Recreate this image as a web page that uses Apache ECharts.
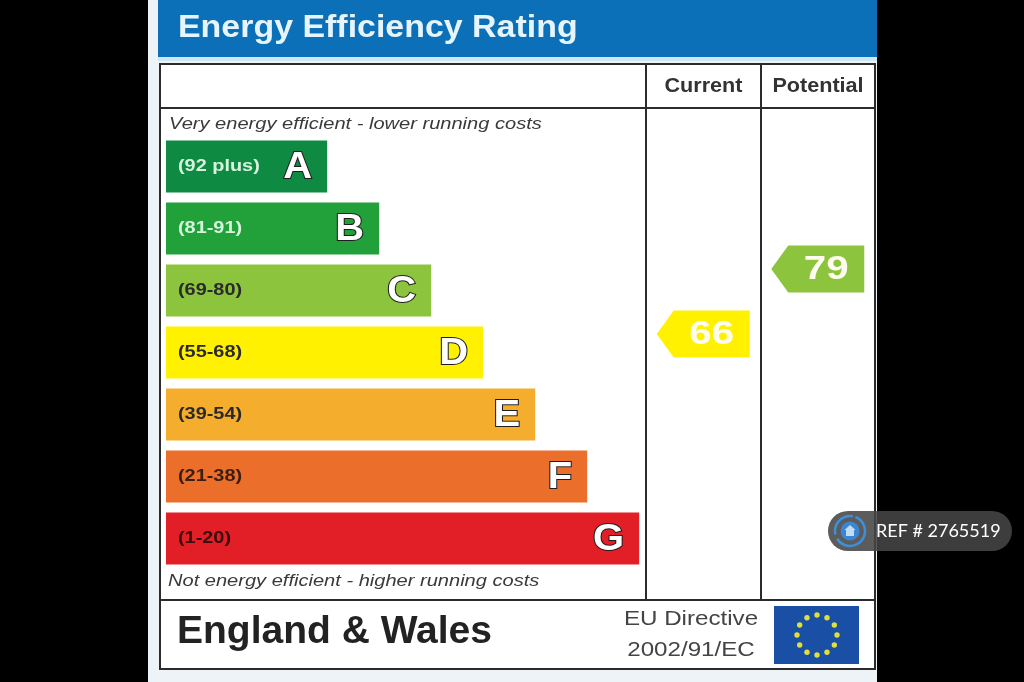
<!DOCTYPE html>
<html>
<head>
<meta charset="utf-8">
<title>Energy Efficiency Rating</title>
<script src="https://cdn.jsdelivr.net/npm/echarts@6.0.0/dist/echarts.min.js"></script>
<style>
  html, body { margin: 0; padding: 0; background: #000; }
  #epc_chart { width: 1024px; height: 682px; }
</style>
</head>
<body>
<div id="epc_chart"></div>
<script>
// rating bands, best to worst
var bandLetters = ['A', 'B', 'C', 'D', 'E', 'F', 'G'];
var bandRanges = ['(92 plus)', '(81-91)', '(69-80)', '(55-68)', '(39-54)', '(21-38)', '(1-20)'];
var bandLower = [92, 81, 69, 55, 39, 21, 1];
var bandLength = [3.1, 4.1, 5.1, 6.1, 7.1, 8.1, 9.1];

// the two scores
var ratingNames = ['Current', 'Potential'];
var ratingValues = [66, 79];

var bandColors = ['#0f8a43', '#22a03a', '#8cc43e', '#fff100', '#f4ad2c', '#ec6e2b', '#e21f26'];
var rangeTextColors = ['#d6f3dc', '#d6f3dc', '#2a2a2a', '#2a2a2a', '#2a2a2a', '#3a1f10', '#3a0c0c'];
var FONT = '"Liberation Sans", Arial, sans-serif';

function bandOf(score) {
  for (var i = 0; i < bandLower.length; i++) {
    if (score >= bandLower[i]) return i;
  }
  return bandLower.length - 1;
}

var epcChart = echarts.init(document.getElementById('epc_chart'));

// EU flag stars
var stars = [];
for (var k = 0; k < 12; k++) {
  var a = k / 12 * Math.PI * 2;
  stars.push({
    type: 'circle',
    shape: { cx: 817 + Math.cos(a) * 20, cy: 635 + Math.sin(a) * 20, r: 2.7 },
    style: { fill: '#dfe03c' },
    z: 3
  });
}

var epc_option = {
  animation: false,
  backgroundColor: '#000',
  grid: [
    { left: 166, top: 135.5, width: 520, height: 434 },   // bands
    { left: 646, top: 164, width: 229, height: 500 }      // arrows
  ],
  xAxis: [
    { gridIndex: 0, type: 'value', min: 0, max: 10, show: false },
    { gridIndex: 1, type: 'category', data: ratingNames, show: false }
  ],
  yAxis: [
    { gridIndex: 0, type: 'category', data: bandLetters, inverse: true, show: false },
    { gridIndex: 1, type: 'value', min: 0, max: 100, show: false }
  ],
  graphic: [
    // panel
    { type: 'rect', shape: { x: 148, y: 0, width: 729, height: 682 }, style: { fill: '#eef3f7' }, z: 0 },
    { type: 'rect', shape: { x: 158, y: 0, width: 719, height: 57 }, style: { fill: '#0b70b8' }, z: 1 },
    { type: 'rect', shape: { x: 158, y: 57, width: 719, height: 4 }, style: { fill: '#cfe8f7' }, z: 1 },
    {
      type: 'text', x: 178, y: 28, scaleX: 1.06, z: 2,
      style: { text: 'Energy Efficiency Rating', font: 'bold 32px ' + FONT, fill: '#e6f5fd', textVerticalAlign: 'middle' }
    },
    // table
    { type: 'rect', shape: { x: 160, y: 64, width: 715, height: 605 }, style: { fill: '#fff', stroke: '#2b2b2b', lineWidth: 2 }, z: 1 },
    { type: 'line', shape: { x1: 160, y1: 108, x2: 875, y2: 108 }, style: { stroke: '#2b2b2b', lineWidth: 2 }, z: 1 },
    { type: 'line', shape: { x1: 160, y1: 600, x2: 875, y2: 600 }, style: { stroke: '#2b2b2b', lineWidth: 2 }, z: 1 },
    { type: 'line', shape: { x1: 646, y1: 64, x2: 646, y2: 600 }, style: { stroke: '#2b2b2b', lineWidth: 2 }, z: 1 },
    { type: 'line', shape: { x1: 761, y1: 64, x2: 761, y2: 600 }, style: { stroke: '#2b2b2b', lineWidth: 2 }, z: 1 },
    {
      type: 'text', x: 703.5, y: 86, scaleX: 1.08, z: 2,
      style: { text: 'Current', font: 'bold 20px ' + FONT, fill: '#333', textAlign: 'center', textVerticalAlign: 'middle' }
    },
    {
      type: 'text', x: 818, y: 86, scaleX: 1.08, z: 2,
      style: { text: 'Potential', font: 'bold 20px ' + FONT, fill: '#333', textAlign: 'center', textVerticalAlign: 'middle' }
    },
    {
      type: 'text', x: 169, y: 124, scaleX: 1.18, z: 2,
      style: { text: 'Very energy efficient - lower running costs', font: 'italic 17px ' + FONT, fill: '#3a3a3a', textVerticalAlign: 'middle' }
    },
    {
      type: 'text', x: 168, y: 581, scaleX: 1.18, z: 2,
      style: { text: 'Not energy efficient - higher running costs', font: 'italic 17px ' + FONT, fill: '#3a3a3a', textVerticalAlign: 'middle' }
    },
    // footer
    {
      type: 'text', x: 177, y: 632, z: 2,
      style: { text: 'England & Wales', font: 'bold 39px ' + FONT, fill: '#222', textVerticalAlign: 'middle' }
    },
    {
      type: 'text', x: 691, y: 619, scaleX: 1.15, z: 2,
      style: { text: 'EU Directive', font: '21px ' + FONT, fill: '#444', textAlign: 'center', textVerticalAlign: 'middle' }
    },
    {
      type: 'text', x: 691, y: 650, scaleX: 1.15, z: 2,
      style: { text: '2002/91/EC', font: '21px ' + FONT, fill: '#444', textAlign: 'center', textVerticalAlign: 'middle' }
    },
    { type: 'rect', shape: { x: 774, y: 606, width: 85, height: 58 }, style: { fill: '#1a4fa6' }, z: 2 }
  ].concat(stars).concat([
    // REF badge
    { type: 'rect', shape: { x: 828, y: 511, width: 184, height: 40, r: 20 }, style: { fill: 'rgba(70,70,70,0.88)' }, z: 100 },
    { type: 'arc', shape: { cx: 850, cy: 531, r: 15, startAngle: -1.2, endAngle: 2.6 }, style: { stroke: '#3f8fd8', lineWidth: 2.5, fill: null }, z: 101 },
    { type: 'arc', shape: { cx: 850, cy: 531, r: 15, startAngle: 2.9, endAngle: 4.9 }, style: { stroke: '#3f8fd8', lineWidth: 2.5, fill: null }, z: 101 },
    { type: 'circle', shape: { cx: 850, cy: 531, r: 9.5 }, style: { fill: '#3a86d0' }, z: 101 },
    { type: 'polygon', shape: { points: [[850, 525], [855.5, 530], [854, 530], [854, 536], [846, 536], [846, 530], [844.5, 530]] }, style: { fill: '#c4dcf3' }, z: 102 },
    {
      type: 'text', x: 876, y: 531, z: 102,
      style: { text: 'REF # 2765519', font: '18px Lato, "Open Sans", sans-serif', fill: '#fff', textVerticalAlign: 'middle' }
    }
  ]),
  series: [
    {
      name: 'bands',
      type: 'custom',
      xAxisIndex: 0,
      yAxisIndex: 0,
      encode: { x: 0, y: 1 },
      data: bandLength.map(function (v, i) { return [v, bandLetters[i]]; }),
      renderItem: function (params, api) {
        var i = params.dataIndex;
        var start = api.coord([0, api.value(1)]);
        var end = api.coord([api.value(0), api.value(1)]);
        var h = api.size([0, 1])[1] * 0.84;
        return {
          type: 'group',
          children: [
            {
              type: 'rect',
              shape: { x: start[0], y: start[1] - h / 2, width: end[0] - start[0], height: h },
              style: { fill: bandColors[i] }
            },
            {
              type: 'text', x: start[0] + 12, y: start[1], scaleX: 1.17,
              style: { text: bandRanges[i], font: 'bold 17px ' + FONT, fill: rangeTextColors[i], textVerticalAlign: 'middle' }
            },
            {
              type: 'text', x: end[0] - 15, y: start[1] + 1, scaleX: 1.08,
              style: {
                text: bandLetters[i], font: 'bold 37px ' + FONT, fill: '#fff',
                stroke: '#1e1e1e', lineWidth: 2, textAlign: 'right', textVerticalAlign: 'middle'
              }
            }
          ]
        };
      }
    },
    {
      name: 'ratings',
      type: 'custom',
      xAxisIndex: 1,
      yAxisIndex: 1,
      encode: { x: 0, y: 1 },
      data: ratingValues.map(function (v, i) { return [ratingNames[i], v]; }),
      renderItem: function (params, api) {
        var score = api.value(1);
        var c = api.coord([api.value(0), score]);
        var w = 93, h = 47, tip = 17;
        var x0 = c[0] - w / 2, x1 = c[0] + w / 2;
        return {
          type: 'group',
          children: [
            {
              type: 'polygon',
              shape: { points: [[x0, c[1]], [x0 + tip, c[1] - h / 2], [x1, c[1] - h / 2], [x1, c[1] + h / 2], [x0 + tip, c[1] + h / 2]] },
              style: { fill: bandColors[bandOf(score)] }
            },
            {
              type: 'text', x: c[0] + tip / 2, y: c[1] + 1, scaleX: 1.22,
              style: { text: String(score), font: 'bold 33px ' + FONT, fill: '#fffdf0', textAlign: 'center', textVerticalAlign: 'middle' }
            }
          ]
        };
      }
    }
  ]
};
epcChart.setOption(epc_option);
</script>
</body>
</html>
